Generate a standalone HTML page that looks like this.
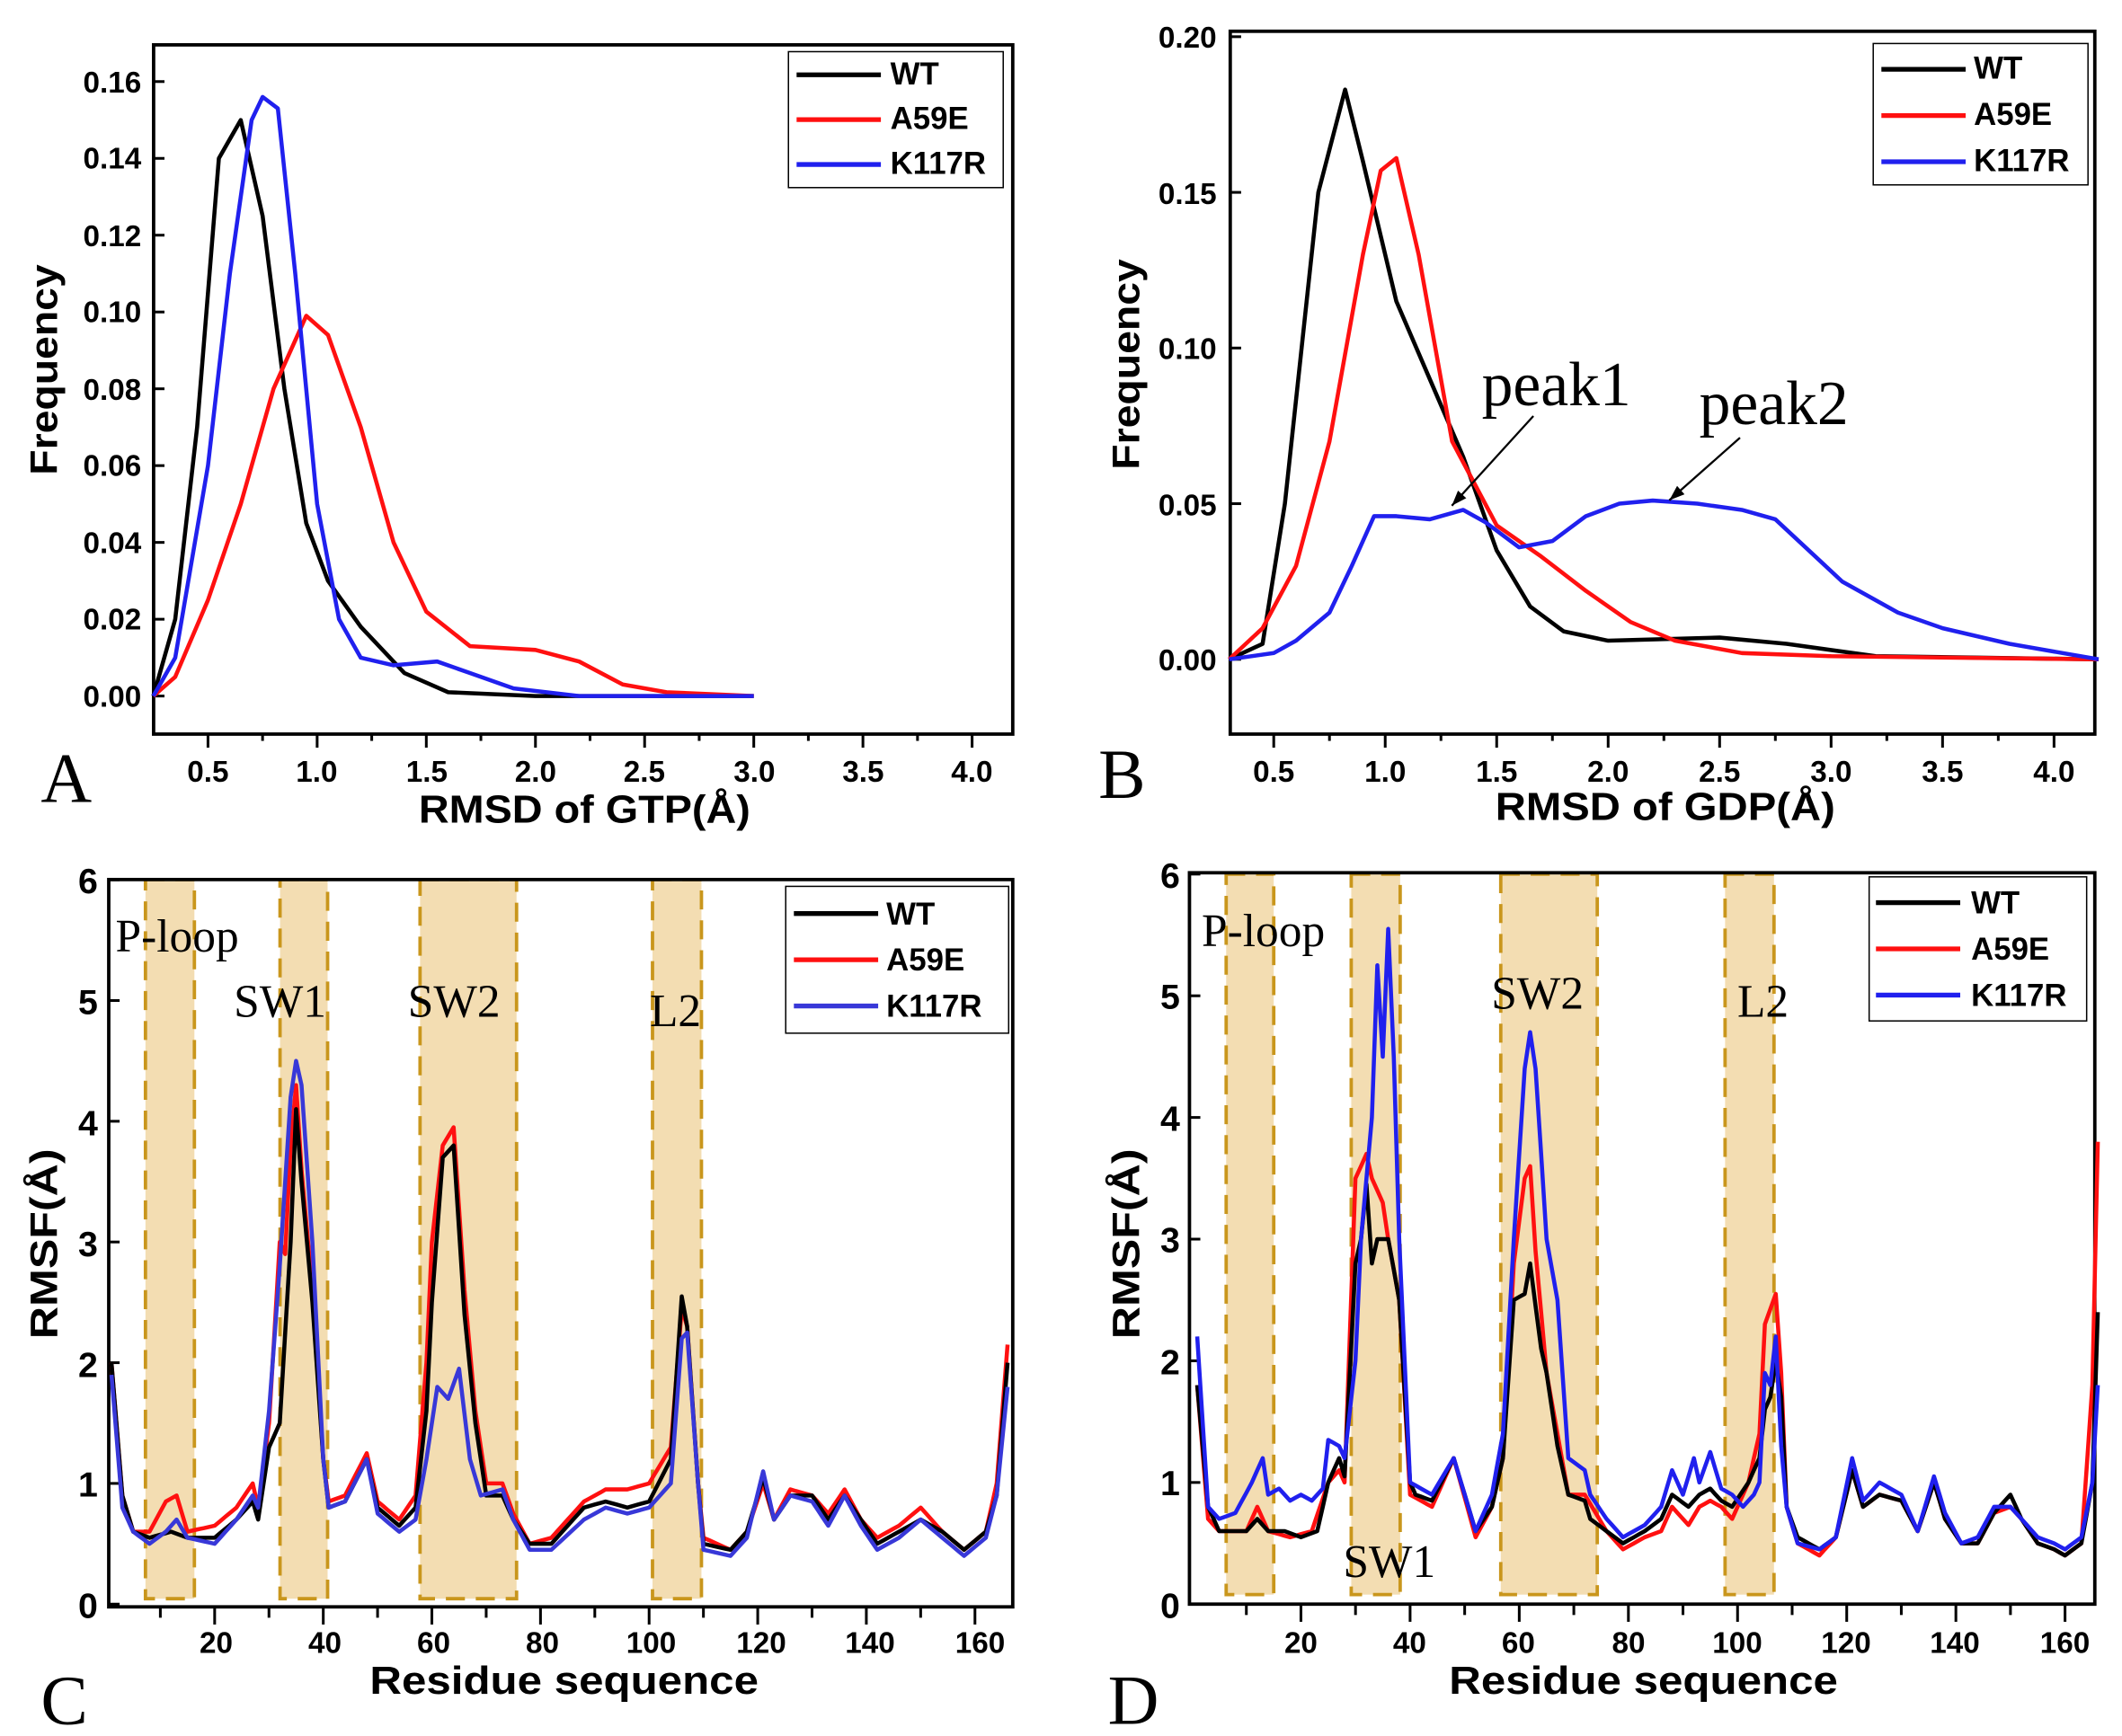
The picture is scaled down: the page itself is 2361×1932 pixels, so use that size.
<!DOCTYPE html>
<html><head><meta charset="utf-8"><style>
html,body{margin:0;padding:0;background:#fff;}
svg{display:block;}
text{font-family:"Liberation Sans",Arial,sans-serif;font-weight:bold;fill:#000;}
.s{font-family:"Liberation Serif","Times New Roman",serif;font-weight:normal;}
</style></head><body>
<svg id="s" width="2361" height="1932" viewBox="0 0 1561 1277" preserveAspectRatio="none" xmlns="http://www.w3.org/2000/svg">
<g id="g"></g>
<!-- Panel A labels -->
<g font-size="22" text-anchor="end">
<text x="104" y="520">0.00</text><text x="104" y="463">0.02</text><text x="104" y="407">0.04</text><text x="104" y="350">0.06</text><text x="104" y="294">0.08</text><text x="104" y="237">0.10</text><text x="104" y="181">0.12</text><text x="104" y="124">0.14</text><text x="104" y="68">0.16</text>
</g>
<g font-size="22" text-anchor="middle">
<text x="153" y="575">0.5</text><text x="233" y="575">1.0</text><text x="314" y="575">1.5</text><text x="394" y="575">2.0</text><text x="474" y="575">2.5</text><text x="555" y="575">3.0</text><text x="635" y="575">3.5</text><text x="715" y="575">4.0</text>
</g>
<text x="308" y="605" font-size="29" textLength="244" lengthAdjust="spacingAndGlyphs">RMSD of GTP(Å)</text>
<text x="42" y="272" font-size="28" text-anchor="middle" transform="rotate(-90 42 272)" textLength="155" lengthAdjust="spacingAndGlyphs">Frequency</text>
<text class="s" x="30" y="590" font-size="52">A</text>
<!-- Panel B labels -->
<g font-size="22" text-anchor="end">
<text x="895" y="493">0.00</text><text x="895" y="379">0.05</text><text x="895" y="264">0.10</text><text x="895" y="150">0.15</text><text x="895" y="35">0.20</text>
</g>
<g font-size="22" text-anchor="middle">
<text x="937" y="575">0.5</text><text x="1019" y="575">1.0</text><text x="1101" y="575">1.5</text><text x="1183" y="575">2.0</text><text x="1265" y="575">2.5</text><text x="1347" y="575">3.0</text><text x="1429" y="575">3.5</text><text x="1511" y="575">4.0</text>
</g>
<text x="1100" y="603" font-size="29" textLength="250" lengthAdjust="spacingAndGlyphs">RMSD of GDP(Å)</text>
<text x="838" y="268" font-size="28" text-anchor="middle" transform="rotate(-90 838 268)" textLength="155" lengthAdjust="spacingAndGlyphs">Frequency</text>
<text class="s" x="808" y="587" font-size="52">B</text>
<text class="s" x="1090" y="298" font-size="46">peak1</text>
<text class="s" x="1250" y="312" font-size="46">peak2</text>
<!-- Panel C labels -->
<g font-size="26" text-anchor="end">
<text x="72" y="1190">0</text><text x="72" y="1101">1</text><text x="72" y="1013">2</text><text x="72" y="924">3</text><text x="72" y="835">4</text><text x="72" y="746">5</text><text x="72" y="657">6</text>
</g>
<g font-size="22" text-anchor="middle">
<text x="159" y="1216">20</text><text x="239" y="1216">40</text><text x="319" y="1216">60</text><text x="399" y="1216">80</text><text x="479" y="1216">100</text><text x="560" y="1216">120</text><text x="640" y="1216">140</text><text x="721" y="1216">160</text>
</g>
<text x="272" y="1246" font-size="29" textLength="286" lengthAdjust="spacingAndGlyphs">Residue sequence</text>
<text x="42" y="915" font-size="28" text-anchor="middle" transform="rotate(-90 42 915)" textLength="140" lengthAdjust="spacingAndGlyphs">RMSF(Å)</text>
<text class="s" x="30" y="1268" font-size="52">C</text>
<text class="s" x="85" y="700" font-size="34">P-loop</text><text class="s" x="172" y="748" font-size="34">SW1</text><text class="s" x="300" y="748" font-size="34">SW2</text><text class="s" x="478" y="755" font-size="34">L2</text>
<!-- Panel D labels -->
<g font-size="26" text-anchor="end">
<text x="868" y="1190">0</text><text x="868" y="1100">1</text><text x="868" y="1011">2</text><text x="868" y="921">3</text><text x="868" y="832">4</text><text x="868" y="742">5</text><text x="868" y="653">6</text>
</g>
<g font-size="22" text-anchor="middle">
<text x="957" y="1216">20</text><text x="1037" y="1216">40</text><text x="1117" y="1216">60</text><text x="1198" y="1216">80</text><text x="1278" y="1216">100</text><text x="1358" y="1216">120</text><text x="1438" y="1216">140</text><text x="1519" y="1216">160</text>
</g>
<text x="1066" y="1246" font-size="29" textLength="286" lengthAdjust="spacingAndGlyphs">Residue sequence</text>
<text x="838" y="915" font-size="28" text-anchor="middle" transform="rotate(-90 838 915)" textLength="140" lengthAdjust="spacingAndGlyphs">RMSF(Å)</text>
<text class="s" x="815" y="1268" font-size="52">D</text>
<text class="s" x="884" y="696" font-size="34">P-loop</text><text class="s" x="988" y="1160" font-size="34">SW1</text><text class="s" x="1097" y="742" font-size="34">SW2</text><text class="s" x="1278" y="748" font-size="34">L2</text>
<!-- legends -->
<g font-size="23">
<rect x="580" y="38" width="158" height="100" fill="#fff" stroke="#000" stroke-width="1"/>
<text x="655" y="62">WT</text><text x="655" y="95">A59E</text><text x="655" y="128">K117R</text>
<rect x="1378" y="32" width="158" height="104" fill="#fff" stroke="#000" stroke-width="1"/>
<text x="1452" y="58">WT</text><text x="1452" y="92">A59E</text><text x="1452" y="126">K117R</text>
<rect x="578" y="652" width="164" height="108" fill="#fff" stroke="#000" stroke-width="1"/>
<text x="652" y="680">WT</text><text x="652" y="714">A59E</text><text x="652" y="748">K117R</text>
<rect x="1375" y="645" width="160" height="106" fill="#fff" stroke="#000" stroke-width="1"/>
<text x="1450" y="672">WT</text><text x="1450" y="706">A59E</text><text x="1450" y="740">K117R</text>
</g>
</svg>
<script>
const NS="http://www.w3.org/2000/svg",G=document.getElementById('g');
function el(t,a){const e=document.createElementNS(NS,t);for(const k in a)e.setAttribute(k,a[k]);G.appendChild(e);return e;}
function line(x1,y1,x2,y2,c,w){el('line',{x1,y1,x2,y2,stroke:c||'#000','stroke-width':w||2});}
function poly(pts,c,w){el('polyline',{points:pts.map(p=>p[0].toFixed(1)+','+p[1].toFixed(1)).join(' '),fill:'none',stroke:c,'stroke-width':w||3,'stroke-linejoin':'round'});}
const BL='#000',RD='#ff1010',BU='#2020ee',PU='#3838d8';
function shade(x1,x2,y1,y2){el('rect',{x:x1,y:y1,width:x2-x1,height:y2-y1,fill:'#f3ddb2',stroke:'#c9961c','stroke-width':2.5,'stroke-dasharray':'14 8'});}
[[107,143],[206,241],[309,380],[480,516]].forEach(r=>shade(r[0],r[1],647,1176));
[[902,937],[994,1030],[1104,1175],[1269,1305]].forEach(r=>shade(r[0],r[1],643,1173));
function box(x1,y1,x2,y2){el('rect',{x:x1,y:y1,width:x2-x1,height:y2-y1,fill:'none',stroke:'#000','stroke-width':2.5});}
const ax=v=>153+(v-0.5)*160.6, ay=v=>512-v/0.02*56.5;
const A={wt:[[0.25,0],[0.35,0.02],[0.45,0.07],[0.55,0.14],[0.65,0.15],[0.75,0.125],[0.85,0.08],[0.95,0.045],[1.05,0.03],[1.2,0.018],[1.4,0.006],[1.6,0.001],[2,0],[3,0]],
a:[[0.25,0],[0.35,0.005],[0.5,0.025],[0.65,0.05],[0.8,0.08],[0.95,0.099],[1.05,0.094],[1.2,0.07],[1.35,0.04],[1.5,0.022],[1.7,0.013],[2.0,0.012],[2.2,0.009],[2.4,0.003],[2.6,0.001],[3,0]],
k:[[0.25,0],[0.35,0.01],[0.5,0.06],[0.6,0.11],[0.7,0.15],[0.75,0.156],[0.82,0.153],[0.9,0.11],[1.0,0.05],[1.1,0.02],[1.2,0.01],[1.35,0.008],[1.55,0.009],[1.7,0.006],[1.9,0.002],[2.2,0],[3,0]]};
box(113,33,745,540);
for(let i=0;i<=8;i++){line(113,ay(i*0.02),121,ay(i*0.02));}
for(let v=0.5;v<=4.01;v+=0.25){const l=Math.abs(v*2-Math.round(v*2))<0.01;line(ax(v),540,ax(v),l?550:545);}
poly(A.wt.map(p=>[ax(p[0]),ay(p[1])]),BL);poly(A.a.map(p=>[ax(p[0]),ay(p[1])]),RD);poly(A.k.map(p=>[ax(p[0]),ay(p[1])]),BU);
const bx=v=>937+(v-0.5)*164, by=v=>485-v/0.05*114.5;
const B={wt:[[0.3,0],[0.45,0.005],[0.55,0.05],[0.7,0.15],[0.82,0.183],[0.9,0.16],[1.05,0.115],[1.2,0.09],[1.35,0.065],[1.5,0.035],[1.65,0.017],[1.8,0.009],[2.0,0.006],[2.5,0.007],[2.8,0.005],[3.2,0.001],[4.2,0]],
a:[[0.3,0],[0.45,0.01],[0.6,0.03],[0.75,0.07],[0.9,0.13],[0.98,0.157],[1.05,0.161],[1.15,0.13],[1.3,0.07],[1.5,0.043],[1.7,0.033],[1.9,0.022],[2.1,0.012],[2.3,0.006],[2.6,0.002],[3,0.001],[4.2,0]],
k:[[0.3,0],[0.5,0.002],[0.6,0.006],[0.75,0.015],[0.85,0.03],[0.95,0.046],[1.05,0.046],[1.2,0.045],[1.35,0.048],[1.45,0.044],[1.6,0.036],[1.75,0.038],[1.9,0.046],[2.05,0.05],[2.2,0.051],[2.4,0.05],[2.6,0.048],[2.75,0.045],[2.9,0.035],[3.05,0.025],[3.3,0.015],[3.5,0.01],[3.8,0.005],[4.2,0]]};
box(905,23,1541,540);
for(let i=0;i<=4;i++){line(905,by(i*0.05),913,by(i*0.05));}
for(let v=0.5;v<=4.01;v+=0.25){const l=Math.abs(v*2-Math.round(v*2))<0.01;line(bx(v),540,bx(v),l?550:545);}
poly(B.wt.map(p=>[bx(p[0]),by(p[1])]),BL);poly(B.a.map(p=>[bx(p[0]),by(p[1])]),RD);poly(B.k.map(p=>[bx(p[0]),by(p[1])]),BU);
function arrow(x1,y1,x2,y2){line(x1,y1,x2,y2,'#000',1.5);const a=Math.atan2(y2-y1,x2-x1),L=12;
el('polygon',{points:`${x2},${y2} ${x2-L*Math.cos(a-0.35)},${y2-L*Math.sin(a-0.35)} ${x2-L*Math.cos(a+0.35)},${y2-L*Math.sin(a+0.35)}`,fill:'#000'});}
arrow(1128,306,1068,372);arrow(1280,322,1228,368);
function interp(k){const o=[];for(let i=0;i<k.length-1;i++){const [r1,v1]=k[i],[r2,v2]=k[i+1];for(let r=r1;r<r2;r++)o.push([r,v1+(v2-v1)*(r-r1)/(r2-r1)]);}o.push(k[k.length-1]);return o;}
function parse(s){return s.split(',').map(t=>t.split(':').map(Number));}
const cx=r=>82+(r-1)*3.995, cy=v=>1180-v*88.8;
const dx=r=>957+(r-20)*4.015, dy=v=>1180-v*89.5;
box(80,647,745,1182);box(875,642,1541,1180);
for(let i=0;i<=6;i++){line(80,cy(i),88,cy(i));line(875,dy(i),883,dy(i));}
for(let r=10;r<=160;r+=10){line(cx(r),1182,cx(r),r%20?1190:1195);line(dx(r),1180,dx(r),r%20?1188:1193);}
const C={wt:"1:2.0,3:0.9,5:0.6,8:0.55,12:0.6,15:0.55,20:0.55,24:0.7,27:0.85,28:0.7,30:1.3,32:1.5,34:3,35:4.1,36:3.5,38:2.5,40:1.2,41:0.8,44:0.85,48:1.2,50:0.8,54:0.65,57:0.8,59:1.6,60:2.5,62:3.7,64:3.8,66:2.4,68:1.5,70:0.9,73:0.9,75:0.7,78:0.5,82:0.5,88:0.8,92:0.85,96:0.8,100:0.85,104:1.2,106:2.55,107:2.3,109:1.0,110:0.5,115:0.45,118:0.6,121:1.05,123:0.7,126:0.9,130:0.9,133:0.7,136:0.9,139:0.7,142:0.5,146:0.6,150:0.7,154:0.6,158:0.45,162:0.6,164:0.9,166:2.0",
a:"1:2.0,3:0.9,5:0.6,8:0.6,11:0.85,13:0.9,15:0.6,20:0.65,24:0.8,27:1.0,28:0.8,30:1.5,32:3.0,33:2.9,34:3.8,35:4.3,36:3.6,38:2.6,40:1.2,41:0.85,44:0.9,48:1.25,50:0.85,54:0.7,57:0.9,59:2.0,60:3.0,62:3.8,64:3.95,66:2.6,68:1.6,70:1.0,73:1.0,75:0.75,78:0.5,82:0.55,88:0.85,92:0.95,96:0.95,100:1.0,104:1.3,106:2.45,107:2.3,109:1.0,110:0.55,115:0.45,118:0.6,121:1.0,123:0.7,126:0.95,130:0.9,133:0.75,136:0.95,139:0.7,142:0.55,146:0.65,150:0.8,154:0.6,158:0.45,162:0.6,164:1.0,166:2.15",
k:"1:1.9,3:0.8,5:0.6,8:0.5,11:0.6,13:0.7,15:0.55,20:0.5,24:0.7,27:0.9,28:0.8,30:1.6,32:2.8,34:4.2,35:4.5,36:4.3,38:3.0,40:1.2,41:0.8,44:0.85,48:1.2,50:0.75,54:0.6,57:0.7,59:1.2,61:1.8,63:1.7,65:1.95,67:1.2,69:0.9,73:0.95,75:0.7,78:0.45,82:0.45,88:0.7,92:0.8,96:0.75,100:0.8,104:1.0,106:2.2,107:2.25,109:1.0,110:0.45,115:0.4,118:0.55,121:1.1,123:0.7,126:0.9,130:0.85,133:0.65,136:0.9,139:0.65,142:0.45,146:0.55,150:0.7,154:0.55,158:0.4,162:0.55,164:0.9,166:1.8"};
poly(interp(parse(C.a)).map(p=>[cx(p[0]),cy(p[1])]),RD);poly(interp(parse(C.wt)).map(p=>[cx(p[0]),cy(p[1])]),BL);poly(interp(parse(C.k)).map(p=>[cx(p[0]),cy(p[1])]),PU);
const D={wt:"1:1.8,3:0.8,5:0.6,7:0.6,10:0.6,12:0.7,14:0.6,17:0.6,20:0.55,23:0.6,25:1.0,27:1.2,28:1.05,30:2.8,31:3.0,32:3.45,33:2.8,34:3.0,36:3.0,38:2.5,40:1.0,41:0.9,44:0.85,48:1.2,52:0.6,55:0.8,57:1.2,59:2.5,61:2.55,62:2.8,64:2.1,65:1.9,67:1.3,69:0.9,72:0.85,73:0.7,76:0.6,79:0.5,83:0.6,86:0.7,88:0.9,91:0.8,93:0.9,95:0.95,97:0.85,99:0.8,102:1.0,104:1.2,105:1.6,106:1.7,107:2.0,108:1.7,109:0.8,111:0.55,115:0.45,118:0.55,121:1.1,123:0.8,126:0.9,130:0.85,133:0.6,136:1.0,138:0.7,141:0.5,144:0.5,147:0.75,150:0.9,152:0.7,155:0.5,158:0.45,160:0.4,163:0.5,165:1.0,166:2.4",
a:"1:1.8,3:0.7,5:0.6,10:0.6,12:0.8,14:0.6,18:0.55,22:0.6,25:1.0,27:1.1,28:1.0,30:3.5,32:3.7,33:3.5,35:3.3,36:3.0,38:2.5,40:0.9,44:0.8,48:1.2,52:0.55,55:0.8,57:1.2,59:2.8,61:3.5,62:3.6,63:2.9,65:1.9,67:1.4,69:0.9,72:0.9,76:0.6,79:0.45,83:0.55,86:0.6,88:0.8,91:0.65,93:0.8,95:0.85,97:0.8,99:0.7,102:1.0,104:1.4,105:2.3,107:2.55,108:1.9,109:0.8,111:0.5,115:0.4,118:0.55,121:1.1,123:0.8,126:0.9,130:0.85,133:0.6,136:1.0,138:0.7,141:0.5,144:0.5,147:0.75,150:0.8,152:0.7,155:0.5,158:0.45,160:0.4,163:0.5,165:1.8,166:3.8",
k:"1:2.2,3:0.8,5:0.7,8:0.75,11:1.0,13:1.2,14:0.9,16:0.95,18:0.85,20:0.9,22:0.85,24:0.95,25:1.35,27:1.3,28:1.2,30:2.0,31:3.0,33:4.0,34:5.25,35:4.5,36:5.55,37:4.5,38:3.0,40:1.0,42:0.95,44:0.9,48:1.2,52:0.6,55:0.9,57:1.4,59:3.0,61:4.4,62:4.7,63:4.4,65:3.0,67:2.5,69:1.2,72:1.1,73:0.9,76:0.7,79:0.55,83:0.65,86:0.8,88:1.1,90:0.9,92:1.2,93:1.0,95:1.25,97:0.95,99:0.9,101:0.8,103:0.9,104:1.0,105:1.9,106:1.8,107:2.2,108:1.3,109:0.8,111:0.5,115:0.45,118:0.55,121:1.2,123:0.85,126:1.0,130:0.9,133:0.6,136:1.05,138:0.75,141:0.5,144:0.55,147:0.8,150:0.8,152:0.7,155:0.55,158:0.5,160:0.45,163:0.55,165:1.0,166:1.8"};
poly(interp(parse(D.a)).map(p=>[dx(p[0]),dy(p[1])]),RD);poly(interp(parse(D.wt)).map(p=>[dx(p[0]),dy(p[1])]),BL);poly(interp(parse(D.k)).map(p=>[dx(p[0]),dy(p[1])]),BU);
const S=document.getElementById('s');
function lg(x,y,c){const e=document.createElementNS(NS,'line');e.setAttribute('x1',x);e.setAttribute('x2',x+62);e.setAttribute('y1',y);e.setAttribute('y2',y);e.setAttribute('stroke',c);e.setAttribute('stroke-width',3.5);S.appendChild(e);}
lg(586,55,BL);lg(586,88,RD);lg(586,121,BU);
lg(1384,51,BL);lg(1384,85,RD);lg(1384,119,BU);
lg(584,672,BL);lg(584,706,RD);lg(584,740,PU);
lg(1380,664,BL);lg(1380,698,RD);lg(1380,732,BU);
</script>
</body></html>
